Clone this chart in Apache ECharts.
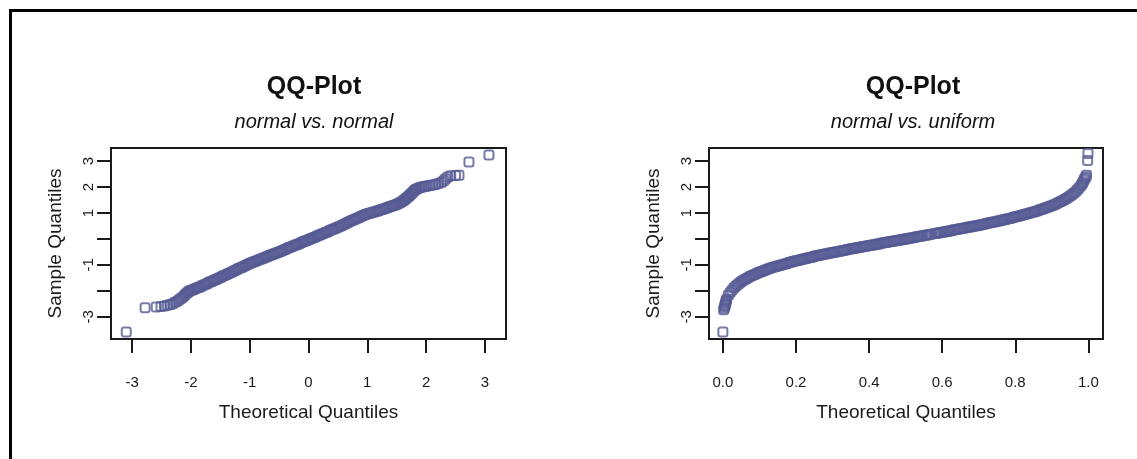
<!DOCTYPE html>
<html>
<head>
<meta charset="utf-8">
<script src="https://cdn.jsdelivr.net/npm/echarts@6/dist/echarts.min.js"></script>
<style>
  html, body { margin: 0; padding: 0; background: #fff; }
  #chart { width: 1137px; height: 459px; }
</style>
</head>
<body>
<div id="chart"></div>
<script>
// Panel titles
const panelTitles = ['QQ-Plot', 'QQ-Plot'];
const panelSubtitles = ['normal vs. normal', 'normal vs. uniform'];
const xAxisTitle = 'Theoretical Quantiles';
const yAxisTitle = 'Sample Quantiles';

// Tick positions and shown tick labels
const normalTicks = [-3, -2, -1, 0, 1, 2, 3];
const uniformTicks = [0, 0.2, 0.4, 0.6, 0.8, 1.0];
const sampleTicks = [-3, -2, -1, 0, 1, 2, 3];
const sampleTickLabels = [-3, -1, 1, 2, 3];

// Left panel: [theoretical normal quantile, sample quantile]
const normalVsNormal = [
  [-3.10,-3.58],[-2.78,-2.65],[-2.59,-2.62],[-2.51,-2.60],[-2.45,-2.58],[-2.40,-2.55],
  [-2.35,-2.52],[-2.31,-2.49],[-2.27,-2.44],[-2.23,-2.40],[-2.20,-2.34],[-2.17,-2.29],
  [-2.14,-2.24],[-2.11,-2.18],[-2.09,-2.12],[-2.06,-2.07],[-2.04,-2.03],[-2.02,-1.99],
  [-1.99,-1.97],[-1.96,-1.95],[-1.93,-1.92],[-1.90,-1.89],[-1.87,-1.87],[-1.84,-1.84],
  [-1.81,-1.80],[-1.78,-1.77],[-1.75,-1.74],[-1.72,-1.71],[-1.69,-1.67],[-1.66,-1.65],
  [-1.63,-1.62],[-1.60,-1.58],[-1.57,-1.56],[-1.54,-1.52],[-1.51,-1.49],[-1.48,-1.46],
  [-1.45,-1.42],[-1.42,-1.40],[-1.39,-1.37],[-1.36,-1.33],[-1.33,-1.30],[-1.30,-1.27],
  [-1.27,-1.23],[-1.24,-1.20],[-1.21,-1.17],[-1.18,-1.13],[-1.15,-1.11],[-1.12,-1.08],
  [-1.09,-1.04],[-1.06,-1.01],[-1.03,-0.97],[-1.00,-0.94],[-0.97,-0.92],[-0.94,-0.89],
  [-0.91,-0.87],[-0.88,-0.84],[-0.85,-0.81],[-0.82,-0.78],[-0.79,-0.76],[-0.76,-0.73],
  [-0.73,-0.70],[-0.70,-0.68],[-0.67,-0.65],[-0.64,-0.62],[-0.61,-0.60],[-0.58,-0.57],
  [-0.55,-0.54],[-0.52,-0.52],[-0.49,-0.49],[-0.46,-0.46],[-0.43,-0.43],[-0.40,-0.41],
  [-0.37,-0.38],[-0.34,-0.34],[-0.31,-0.32],[-0.28,-0.29],[-0.25,-0.26],[-0.22,-0.23],
  [-0.19,-0.21],[-0.16,-0.18],[-0.13,-0.15],[-0.10,-0.12],[-0.07,-0.09],[-0.04,-0.07],
  [-0.01,-0.04],[0.02,-0.01],[0.05,0.02],[0.08,0.05],[0.11,0.07],[0.14,0.10],
  [0.17,0.13],[0.20,0.16],[0.23,0.19],[0.26,0.22],[0.29,0.25],[0.32,0.27],
  [0.35,0.31],[0.38,0.34],[0.41,0.36],[0.44,0.39],[0.47,0.42],[0.50,0.45],
  [0.53,0.48],[0.56,0.51],[0.59,0.55],[0.62,0.58],[0.65,0.61],[0.68,0.64],
  [0.71,0.68],[0.74,0.71],[0.77,0.74],[0.80,0.77],[0.83,0.80],[0.86,0.83],
  [0.89,0.86],[0.92,0.89],[0.95,0.92],[0.98,0.95],[1.01,0.97],[1.04,0.99],
  [1.07,1.01],[1.10,1.03],[1.13,1.05],[1.16,1.07],[1.19,1.09],[1.22,1.11],
  [1.25,1.13],[1.28,1.15],[1.31,1.18],[1.34,1.20],[1.37,1.23],[1.40,1.25],
  [1.43,1.28],[1.46,1.30],[1.49,1.32],[1.52,1.35],[1.55,1.38],[1.58,1.42],
  [1.61,1.47],[1.63,1.50],[1.65,1.54],[1.67,1.58],[1.69,1.61],[1.71,1.65],
  [1.73,1.70],[1.75,1.74],[1.77,1.79],[1.79,1.84],[1.81,1.88],[1.83,1.91],
  [1.85,1.93],[1.88,1.96],[1.91,1.99],[1.94,2.00],[1.97,2.02],[2.00,2.03],
  [2.04,2.05],[2.08,2.07],[2.12,2.08],[2.16,2.10],[2.21,2.13],[2.26,2.17],
  [2.30,2.24],[2.33,2.31],[2.37,2.38],[2.42,2.43],[2.50,2.44],[2.56,2.45],
  [2.73,2.96],[3.07,3.23]
];

// Right panel: [theoretical uniform quantile, sample quantile]
const normalVsUniform = [
  [0.000,-3.58],[0.002,-2.72],[0.004,-2.66],[0.005,-2.60],[0.006,-2.55],[0.007,-2.50],
  [0.008,-2.45],[0.009,-2.39],[0.010,-2.33],[0.015,-2.17],[0.020,-2.06],[0.025,-1.97],
  [0.030,-1.89],[0.035,-1.82],[0.040,-1.76],[0.045,-1.70],[0.050,-1.65],[0.055,-1.60],
  [0.060,-1.56],[0.065,-1.52],[0.070,-1.48],[0.075,-1.44],[0.080,-1.41],[0.085,-1.38],
  [0.090,-1.35],[0.095,-1.31],[0.100,-1.28],[0.105,-1.26],[0.110,-1.23],[0.115,-1.20],
  [0.120,-1.18],[0.125,-1.15],[0.130,-1.13],[0.135,-1.10],[0.140,-1.08],[0.145,-1.06],
  [0.150,-1.04],[0.155,-1.02],[0.160,-1.00],[0.165,-0.98],[0.170,-0.96],[0.175,-0.94],
  [0.180,-0.92],[0.185,-0.90],[0.190,-0.88],[0.195,-0.86],[0.200,-0.84],[0.205,-0.83],
  [0.210,-0.81],[0.215,-0.79],[0.220,-0.77],[0.225,-0.76],[0.230,-0.74],[0.235,-0.72],
  [0.240,-0.71],[0.245,-0.69],[0.250,-0.67],[0.255,-0.66],[0.260,-0.64],[0.265,-0.63],
  [0.270,-0.61],[0.275,-0.60],[0.280,-0.58],[0.285,-0.57],[0.290,-0.55],[0.295,-0.54],
  [0.300,-0.52],[0.305,-0.51],[0.310,-0.50],[0.315,-0.48],[0.320,-0.47],[0.325,-0.45],
  [0.330,-0.44],[0.335,-0.43],[0.340,-0.41],[0.345,-0.40],[0.350,-0.39],[0.355,-0.37],
  [0.360,-0.36],[0.365,-0.35],[0.370,-0.33],[0.375,-0.32],[0.380,-0.31],[0.385,-0.29],
  [0.390,-0.28],[0.395,-0.27],[0.400,-0.25],[0.405,-0.24],[0.410,-0.23],[0.415,-0.22],
  [0.420,-0.20],[0.425,-0.19],[0.430,-0.18],[0.435,-0.16],[0.440,-0.15],[0.445,-0.14],
  [0.450,-0.13],[0.455,-0.11],[0.460,-0.10],[0.465,-0.09],[0.470,-0.08],[0.475,-0.06],
  [0.480,-0.05],[0.485,-0.04],[0.490,-0.03],[0.495,-0.01],[0.500,0.00],[0.505,0.01],
  [0.510,0.03],[0.515,0.04],[0.520,0.05],[0.525,0.06],[0.530,0.08],[0.535,0.09],
  [0.540,0.10],[0.545,0.11],[0.550,0.13],[0.555,0.14],[0.560,0.15],[0.565,0.17],
  [0.570,0.18],[0.580,0.21],[0.585,0.22],[0.590,0.23],[0.595,0.25],[0.600,0.26],
  [0.605,0.27],[0.610,0.28],[0.615,0.30],[0.620,0.31],[0.625,0.32],[0.630,0.34],
  [0.635,0.35],[0.640,0.36],[0.645,0.38],[0.650,0.39],[0.655,0.40],[0.660,0.42],
  [0.665,0.43],[0.670,0.45],[0.675,0.46],[0.680,0.47],[0.685,0.49],[0.690,0.50],
  [0.695,0.51],[0.700,0.53],[0.705,0.54],[0.710,0.56],[0.715,0.57],[0.720,0.59],
  [0.725,0.60],[0.730,0.62],[0.735,0.63],[0.740,0.65],[0.745,0.66],[0.750,0.68],
  [0.755,0.69],[0.760,0.71],[0.765,0.73],[0.770,0.74],[0.775,0.76],[0.780,0.78],
  [0.785,0.79],[0.790,0.81],[0.795,0.83],[0.800,0.85],[0.805,0.86],[0.810,0.88],
  [0.815,0.90],[0.820,0.92],[0.825,0.94],[0.830,0.96],[0.835,0.98],[0.840,1.00],
  [0.845,1.02],[0.850,1.04],[0.855,1.06],[0.860,1.08],[0.865,1.10],[0.870,1.13],
  [0.875,1.15],[0.880,1.18],[0.885,1.20],[0.890,1.23],[0.895,1.26],[0.900,1.28],
  [0.905,1.31],[0.910,1.34],[0.915,1.37],[0.920,1.41],[0.925,1.44],[0.930,1.48],
  [0.935,1.52],[0.940,1.56],[0.945,1.60],[0.950,1.65],[0.955,1.70],[0.960,1.76],
  [0.965,1.82],[0.970,1.89],[0.975,1.97],[0.980,2.06],[0.983,2.12],[0.985,2.18],
  [0.988,2.26],[0.990,2.33],[0.993,2.38],[0.995,2.45],[0.998,3.02],[0.999,3.29]
];

const FONT = '"Liberation Sans", Arial, Helvetica, sans-serif';
const INK = '#1a1a1a';
const POINT = '#555a94';

const chart = echarts.init(document.getElementById('chart'), null, { renderer: 'canvas' });

function xAxisFor(gridIndex, min, max, ticks, fmt) {
  return {
    type: 'value', gridIndex, min, max,
    name: xAxisTitle, nameLocation: 'middle', nameGap: 64,
    nameTextStyle: { fontFamily: FONT, fontSize: 19, color: INK },
    axisLine: { show: false, onZero: false },
    splitLine: { show: false },
    axisTick: { show: true, length: 14, customValues: ticks, lineStyle: { color: INK, width: 2 } },
    axisLabel: { customValues: ticks, margin: 36, fontFamily: FONT, fontSize: 15, color: INK, formatter: fmt }
  };
}

function yAxisFor(gridIndex) {
  return {
    type: 'value', gridIndex, min: -3.85, max: 3.5,
    name: yAxisTitle, nameLocation: 'middle', nameGap: 46, nameRotate: 90,
    nameTextStyle: { fontFamily: FONT, fontSize: 19, color: INK },
    axisLine: { show: false, onZero: false },
    splitLine: { show: false },
    axisTick: { show: true, length: 14, customValues: sampleTicks, lineStyle: { color: INK, width: 2 } },
    axisLabel: { customValues: sampleTickLabels, rotate: 90, margin: 15, fontFamily: FONT, fontSize: 15, color: INK }
  };
}

function pointSeries(index, data) {
  return {
    type: 'scatter', xAxisIndex: index, yAxisIndex: index, data,
    symbol: 'roundRect', symbolSize: 9,
    itemStyle: { color: 'transparent', borderColor: POINT, borderWidth: 2 },
    emphasis: { disabled: true },
    silent: true
  };
}

function titleFor(centerX, text, subtext) {
  return {
    text, subtext, left: centerX, top: 70, textAlign: 'center', itemGap: 12,
    textStyle: { fontFamily: FONT, fontSize: 25, fontWeight: 'bold', color: '#111' },
    subtextStyle: { fontFamily: FONT, fontSize: 20, fontStyle: 'italic', color: '#111' }
  };
}

chart.setOption({
  animation: false,
  backgroundColor: '#fff',
  title: [
    titleFor(309, panelTitles[0], panelSubtitles[0]),
    titleFor(908, panelTitles[1], panelSubtitles[1])
  ],
  grid: [
    { left: 111, top: 148, width: 395, height: 191, show: true, borderColor: INK, borderWidth: 2, backgroundColor: 'transparent' },
    { left: 709, top: 148, width: 394, height: 191, show: true, borderColor: INK, borderWidth: 2, backgroundColor: 'transparent' }
  ],
  xAxis: [
    xAxisFor(0, -3.36, 3.36, normalTicks, v => String(v)),
    xAxisFor(1, -0.038, 1.04, uniformTicks, v => v.toFixed(1))
  ],
  yAxis: [yAxisFor(0), yAxisFor(1)],
  series: [pointSeries(0, normalVsNormal), pointSeries(1, normalVsUniform)],
  graphic: [
    // outer frame: top and left edges
    { type: 'rect', shape: { x: 9, y: 9, width: 1128, height: 3 }, style: { fill: '#000' }, silent: true },
    { type: 'rect', shape: { x: 9, y: 9, width: 3, height: 450 }, style: { fill: '#000' }, silent: true }
  ]
});
</script>
</body>
</html>
